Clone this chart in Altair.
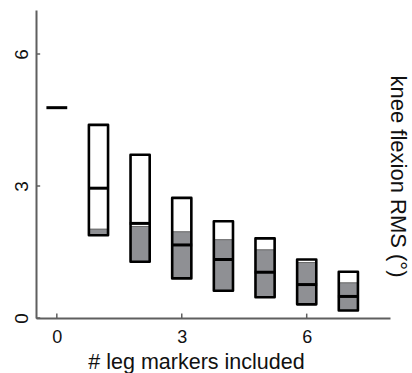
import altair as alt
import pandas as pd

# data
markers = [1, 2, 3, 4, 5, 6, 7]
box_top = [4.39, 3.71, 2.73, 2.20, 1.81, 1.33, 1.05]
gray_top = [2.02, 2.08, 1.96, 1.78, 1.55, 1.26, 0.80]
median = [2.95, 2.15, 1.66, 1.33, 1.04, 0.76, 0.49]
box_bottom = [1.88, 1.28, 0.90, 0.62, 0.47, 0.31, 0.17]
zero_marker = [0]
zero_median = [4.78]
x_ticks = [0, 3, 6]
y_ticks = [0, 3, 6]

HW = 0.23
boxes = pd.DataFrame({
    "x": markers, "top": box_top, "gtop": gray_top,
    "med": median, "bot": box_bottom,
})
boxes["x0"] = boxes["x"] - HW
boxes["x1"] = boxes["x"] + HW
meds = pd.DataFrame({
    "x": zero_marker + markers,
    "med": zero_median + median,
})
meds["x0"] = meds["x"] - HW - 0.02
meds["x1"] = meds["x"] + HW + 0.02

xs = alt.Scale(domain=[-0.5, 8], nice=False, zero=False)
ys = alt.Scale(domain=[0, 7], nice=False, zero=False)
AX = "#5f5f5f"
FONT = "Liberation Sans"

x_axis = alt.Axis(values=x_ticks, grid=False, ticks=False, domainColor=AX, domainWidth=2,
                  labelFont=FONT, labelFontSize=18, labelColor="#111", labelPadding=10,
                  title="# leg markers included", titleFont=FONT, titleFontSize=21.5,
                  titleFontWeight="normal", titleColor="#111", titleX=160, titleY=50,
                  titleAlign="center", titleBaseline="alphabetic")
y_axis = alt.Axis(values=y_ticks, grid=False, ticks=False, domainColor=AX, domainWidth=2,
                  labelFont=FONT, labelFontSize=19, labelColor="#111", labelAngle=270,
                  labelAlign="center", labelBaseline="alphabetic", labelPadding=9,
                  title="knee flexion RMS (°)", titleFont=FONT, titleFontSize=22,
                  titleFontWeight="normal", titleColor="#111", titleAngle=90,
                  titleX=361, titleY=166, titleAlign="center", titleBaseline="middle")

gray = alt.Chart(boxes).mark_rect(fill="#8f9094", stroke="#666666", strokeWidth=1).encode(
    x=alt.X("x0:Q", scale=xs, axis=x_axis), x2="x1:Q",
    y=alt.Y("bot:Q", scale=ys, axis=y_axis), y2="gtop:Q",
)
outline = alt.Chart(boxes).mark_rect(fill=None, fillOpacity=0, stroke="#000", strokeWidth=2.6,
                                     strokeJoin="round").encode(
    x=alt.X("x0:Q", scale=xs), x2="x1:Q",
    y=alt.Y("bot:Q", scale=ys), y2="top:Q",
)
medrule = alt.Chart(meds).mark_rule(color="#000", strokeWidth=3).encode(
    x=alt.X("x0:Q", scale=xs), x2="x1:Q",
    y=alt.Y("med:Q", scale=ys),
)
xt = pd.DataFrame({"v": x_ticks, "a": [0.0] * 3, "b": [0.1] * 3})
yt = pd.DataFrame({"v": y_ticks, "a": [-0.5] * 3, "b": [-0.4] * 3})
xtick = alt.Chart(xt).mark_rule(color=AX, strokeWidth=1.5).encode(
    x=alt.X("v:Q", scale=xs), y=alt.Y("a:Q", scale=ys), y2="b:Q")
ytick = alt.Chart(yt).mark_rule(color=AX, strokeWidth=1.5).encode(
    y=alt.Y("v:Q", scale=ys), x=alt.X("a:Q", scale=xs), x2="b:Q")

chart = alt.layer(gray, outline, medrule, xtick, ytick).properties(
    width=354, height=308,
    padding={"left": 36, "top": 10, "right": 22, "bottom": 55},
    autosize=alt.AutoSizeParams(type="none"),
    background="white",
).configure_view(stroke=None)

chart.save("out.html", embed_options={"renderer": "svg", "actions": False})
